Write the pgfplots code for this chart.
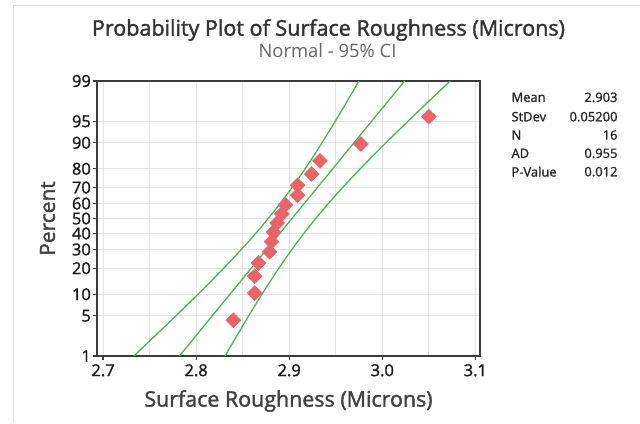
\documentclass[border=0pt]{standalone}
\usepackage{pgfplots}
\pgfplotsset{compat=1.18}
\usepackage{fontspec}
\setmainfont{Open Sans}
\newfontfamily\semib{Open Sans}[FakeBold=1.6]
\newfontfamily\medi{Open Sans}[FakeBold=1.2]
\definecolor{gridc}{RGB}{228,228,228}
\definecolor{fitc}{RGB}{80,178,84}
\definecolor{markc}{RGB}{232,100,104}
\definecolor{framec}{RGB}{60,60,60}
\definecolor{titlec}{RGB}{50,50,50}
\definecolor{labc}{RGB}{64,64,64}
\begin{document}
\begin{tikzpicture}[x=1bp,y=1bp]
\path[use as bounding box] (0,0) rectangle (640,423);
\draw[black!12, line width=1bp] (13,417) -- (640,417);
\draw[black!12, line width=1bp] (13,0) -- (13,417);
\node[font=\semib\fontsize{21.6}{21.6}\selectfont, text=titlec] at (328.5,393) {Probability Plot of Surface Roughness (Microns)};
\node[font=\fontsize{18.5}{18.5}\selectfont, text=black!60] at (327.5,372.5) {Normal - 95\% CI};
\begin{axis}[at={(97bp,67bp)}, anchor=south west, scale only axis,
  width=383bp, height=275bp,
  xmin=2.6935, xmax=3.105, ymin=-2.3263, ymax=2.3263,
  xtick={2.7,2.8,2.9,3.0,3.1}, xticklabels={2.7,2.8,2.9,3.0,3.1},
  minor xtick={2.75,2.85,2.95,3.05},
  ytick={-2.3263,-1.6449,-1.2816,-0.8416,-0.5244,-0.2533,0,0.2533,0.5244,0.8416,1.2816,1.6449,2.3263},
  yticklabels={1,5,10,20,30,40,50,60,70,80,90,95,99},
  grid=both, major grid style={gridc, line width=1bp}, minor grid style={gridc, line width=1bp},
  tick align=outside, xtick pos=bottom, ytick pos=left,
  major tick length=4bp, minor tick length=0pt,
  axis line style={framec, line width=1.6bp},
  major tick style={framec, line width=1.2bp},
  tick label style={font=\medi\fontsize{16.5}{16.5}\selectfont, text=black!90, inner sep=1bp},
  xticklabel style={yshift=-3bp},
  yticklabel style={xshift=-1bp},
  every axis x label/.style={at={(axis description cs:0.5,0)}, anchor=center, yshift=-45bp, font=\semib\fontsize{21.5}{21.5}\selectfont, text=labc},
  every axis y label/.style={at={(axis description cs:0,0.5)}, xshift=-49.5bp, rotate=90, anchor=center, font=\semib\fontsize{21}{21}\selectfont, text=labc},
  xlabel={Surface Roughness (Microns)}, ylabel={Percent},
  clip=true,
]
% 95% CI bands (lower and upper)
\addplot[fitc, line width=1.3bp, smooth] coordinates {
(2.73298,-2.3263) (2.75487,-2.0) (2.77146,-1.75) (2.78786,-1.5) (2.80399,-1.25) (2.81979,-1.0)
(2.83516,-0.75) (2.84997,-0.5) (2.86412,-0.25) (2.87752,0) (2.89012,0.25) (2.90197,0.5)
(2.91316,0.75) (2.92379,1.0) (2.93399,1.25) (2.94386,1.5) (2.95346,1.75) (2.96287,2.0) (2.97492,2.3263)};
\addplot[fitc, line width=1.3bp, smooth] coordinates {
(2.83108,-2.3263) (2.84313,-2.0) (2.85254,-1.75) (2.86214,-1.5) (2.87201,-1.25) (2.88221,-1.0)
(2.89284,-0.75) (2.90403,-0.5) (2.91588,-0.25) (2.92848,0) (2.94188,0.25) (2.95603,0.5)
(2.97084,0.75) (2.98621,1.0) (3.00201,1.25) (3.01814,1.5) (3.03454,1.75) (3.05113,2.0) (3.07302,2.3263)};
% fitted line
\addplot[fitc, line width=1.3bp] coordinates {(2.78203,-2.3263) (3.02397,2.3263)};
% data points (x, normal score of median rank)
\addplot[only marks, mark=square*, mark size=5.3bp, mark options={rotate=45, fill=markc, draw=markc}] table {
x z
2.840 -1.721
2.863 -1.261
2.863 -0.975
2.867 -0.753
2.879 -0.563
2.881 -0.392
2.883 -0.231
2.887 -0.0765
2.892 0.0765
2.896 0.231
2.909 0.392
2.909 0.563
2.924 0.753
2.933 0.975
2.977 1.261
3.050 1.721
};
\end{axis}
\begin{scope}[font=\medi\fontsize{13}{13}\selectfont, text=black!85]
\node[anchor=west] at (508,325.7) {Mean};
\node[anchor=west] at (508,306.3) {StDev};
\node[anchor=west] at (508,288) {N};
\node[anchor=west] at (508,269.7) {AD};
\node[anchor=west] at (508,251.3) {P-Value};
\node[anchor=east] at (621,325.7) {2.903};
\node[anchor=east] at (621,306.3) {0.05200};
\node[anchor=east] at (621,288) {16};
\node[anchor=east] at (621,269.7) {0.955};
\node[anchor=east] at (621,251.3) {0.012};
\end{scope}
\end{tikzpicture}
\end{document}
